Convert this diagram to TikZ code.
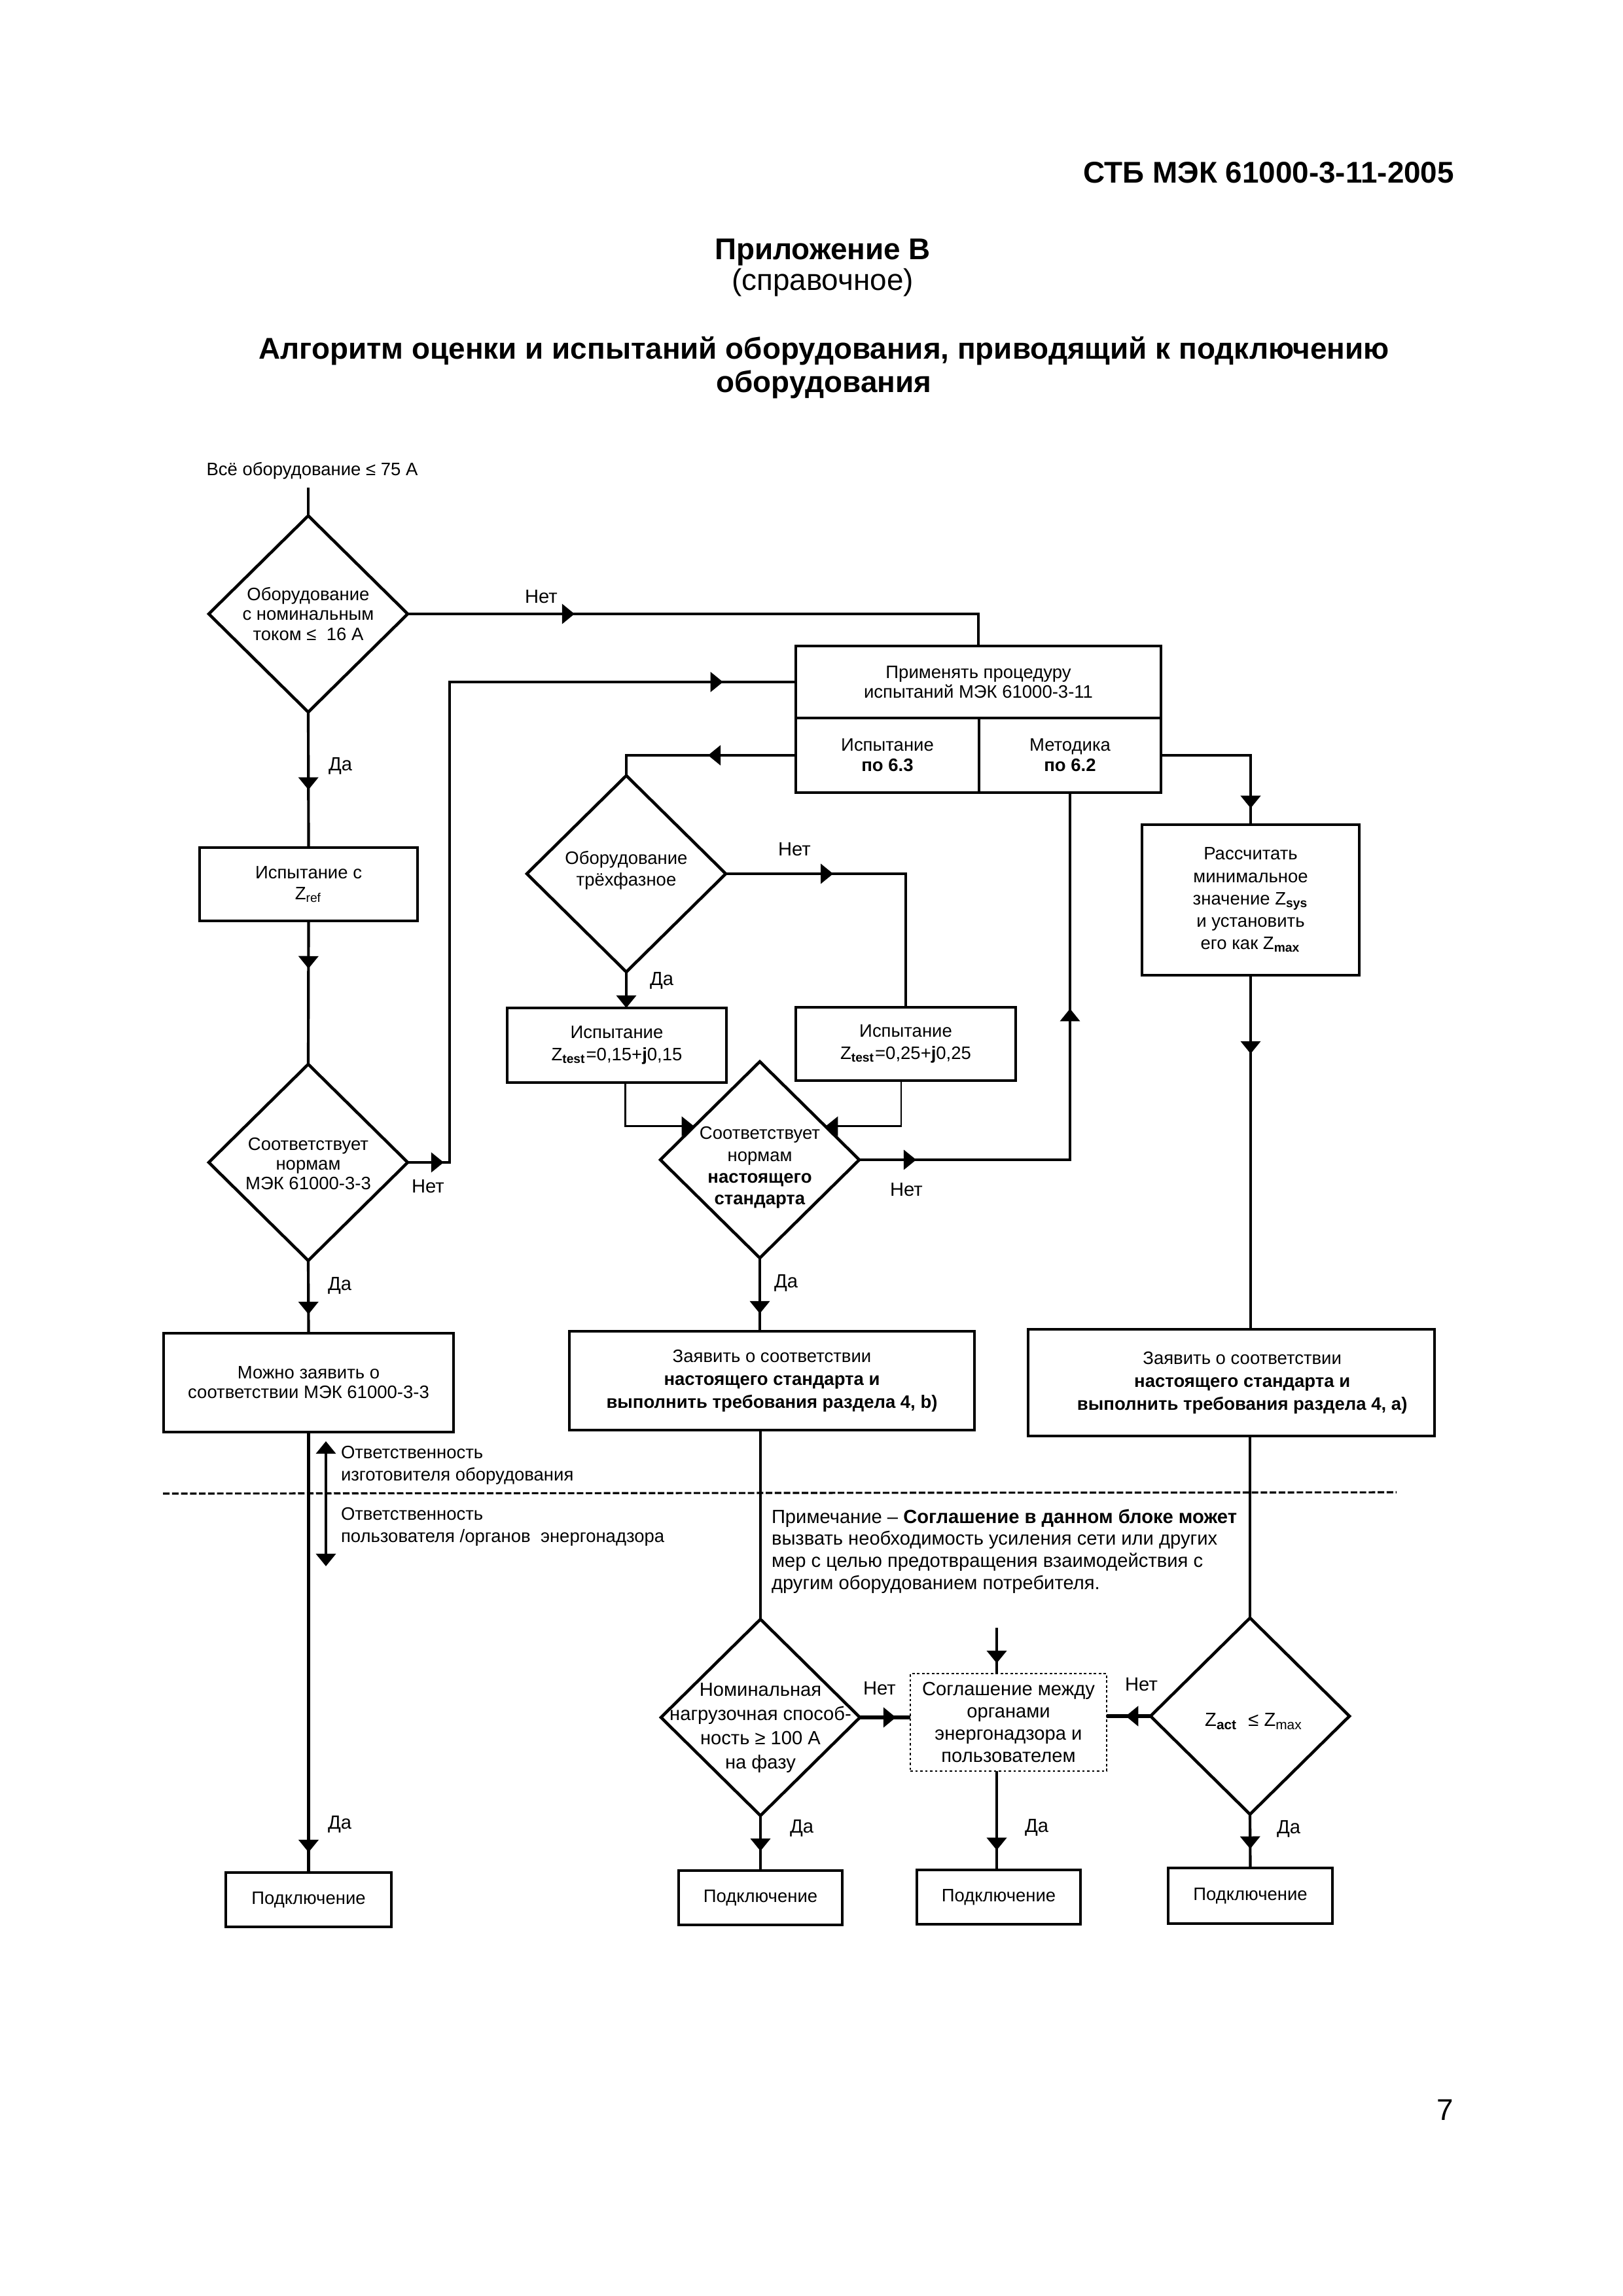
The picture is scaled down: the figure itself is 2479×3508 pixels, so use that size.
\documentclass[tikz,border=0pt]{standalone}
\usepackage{fontspec}
\setmainfont{Liberation Sans}
\usetikzlibrary{arrows.meta,shapes.geometric,decorations.markings,calc}

\begin{document}
\begin{tikzpicture}[x=0.24pt,y=-0.24pt,
  >={Triangle[length=4.6pt,width=7.2pt]},
  every node/.style={inner sep=0pt, outer sep=0pt},
  fs/.style 2 args={font=\fontsize{#1}{#2}\selectfont, align=center},
  lbl/.style={font=\fontsize{7}{8}\selectfont},
  blk/.style={draw, line width=1.1pt, rectangle, align=center},
  dia/.style={draw, line width=1.1pt, diamond, minimum width=72.96pt, minimum height=72pt},
  con/.style={line width=1pt},
  thinline/.style={line width=0.7pt},
  tbar/.style={line width=1.6pt},
  dline/.style={line width=0.75pt, dash pattern=on 2.4pt off 0.9pt},
  dotbox/.style={draw, line width=0.6pt, dash pattern=on 0.9pt off 0.9pt, rectangle, align=center},
  midarr/.style={postaction={decorate,decoration={markings,mark=at position #1 with {\arrow{>}}}}},
]
\fill[white] (0,0) rectangle (2479,3508);
\useasboundingbox (0,0) rectangle (2479,3508);

% ---------- header ----------
\node[anchor=east, font=\fontsize{11}{13}\selectfont\bfseries] (hdr) at (2222,264) {СТБ МЭК 61000-3-11-2005};
\node[font=\fontsize{11}{13}\selectfont\bfseries] (app) at (1257,385) {Приложение В};
\node[font=\fontsize{11}{13}\selectfont] (ref) at (1257,432) {(справочное)};
\node[font=\fontsize{11}{12.2}\selectfont\bfseries, align=center] (ttl) at (1259,562)
  {Алгоритм оценки и испытаний оборудования, приводящий к подключению\\оборудования};
\node[font=\fontsize{11}{13}\selectfont] (pg) at (2208,3224) {7};

% ---------- left column ----------
\node[fs={6.6}{7.6}] (intext) at (477,719) {Всё оборудование ≤ 75 А};
\coordinate (in) at (471,745);

\node[dia] (d1) at (471,938) {};
\node[fs={6.6}{7.4}] (d1t) at (471,938) {Оборудование\\с номинальным\\током ≤\ \ 16 А};

\node[blk, fs={6.6}{7.6}, minimum width=79.92pt, minimum height=26.88pt] (zref) at (471.5,1351)
  {Испытание с\\Z\textsubscript{ref}};

\node[dia] (d2) at (471,1776) {};
\node[fs={6.6}{7.2}] (d2t) at (471,1778) {Соответствует\\нормам\\МЭК 61000-3-3};

\node[blk, fs={6.6}{7.2}, minimum width=106.32pt, minimum height=36.24pt] (mbox) at (471.5,2112.5)
  {Можно заявить о\\соответствии МЭК 61000-3-3};

% ---------- procedure box ----------
\node[blk, fs={6.6}{7.2}, minimum width=133.92pt, minimum height=26.4pt] (ptop) at (1495,1042)
  {Применять процедуру\\испытаний МЭК 61000-3-11};
\node[blk, fs={6.6}{7.5}, minimum width=67.2pt, minimum height=27.36pt] (p63) at (1356,1154)
  {Испытание\\\textbf{по 6.3}};
\node[blk, fs={6.6}{7.5}, minimum width=66.72pt, minimum height=27.36pt] (p62) at (1635,1154)
  {Методика\\\textbf{по 6.2}};

% ---------- middle column ----------
\node[dia] (d3) at (957,1335) {};
\node[fs={6.6}{7.9}] (d3t) at (957,1330) {Оборудование\\трёхфазное};

\node[blk, fs={6.6}{8.2}, minimum width=80.4pt, minimum height=27.36pt] (b1) at (942.5,1597)
  {Испытание\\Z\textsubscript{\bfseries test}=0,15+\textbf{j}0,15};
\node[blk, fs={6.6}{8.2}, minimum width=80.64pt, minimum height=26.88pt] (b2) at (1384,1595)
  {Испытание\\Z\textsubscript{\bfseries test}=0,25+\textbf{j}0,25};

\node[dia] (d4) at (1161,1772) {};
\node[fs={6.6}{8}] (d4t) at (1161,1784) {Соответствует\\нормам\\\textbf{настоящего}\\\textbf{стандарта}};

\node[blk, fs={6.6}{8.4}, minimum width=148.56pt, minimum height=36.24pt] (bbox) at (1179.5,2109.5)
  {Заявить о соответствии\\\textbf{настоящего стандарта и}\\\textbf{выполнить требования раздела 4, b)}};

% ---------- right column ----------
\node[blk, fs={6.6}{8.2}, minimum width=79.68pt, minimum height=55.2pt] (rbox) at (1911,1375)
  {Рассчитать\\минимальное\\значение Z\textsubscript{\bfseries sys}\\и установить\\его как Z\textsubscript{\bfseries max}};

\node[blk, fs={6.6}{8.4}, minimum width=149.04pt, minimum height=39.12pt] (abox) at (1881.5,2112.5)
  {\hspace*{8pt}Заявить о соответствии\\\hspace*{8pt}\textbf{настоящего стандарта и}\\\hspace*{8pt}\textbf{выполнить требования раздела 4, а)}};

% ---------- responsibility ----------
\node[fs={6.6}{8.2}, align=left, anchor=west] (resp1) at (521,2239)
  {Ответственность\\изготовителя оборудования};
\node[fs={6.6}{8.2}, align=left, anchor=west] (resp2) at (521,2333)
  {Ответственность\\пользователя /органов\ \ энергонадзора};
\coordinate (r1) at (498,2202);
\coordinate (r2) at (498,2393);
\coordinate (dl1) at (249,2282);
\coordinate (dl2) at (2134,2280);

\node[fs={7}{8.1}, align=left, anchor=west] (note) at (1179,2370)
  {Примечание -- \textbf{Соглашение в данном блоке может}\\вызвать необходимость усиления сети или других\\мер с целью предотвращения взаимодействия с\\другим оборудованием потребителя.};

% ---------- bottom row ----------
\node[dia] (d5) at (1162,2624) {};
\node[fs={7}{8.9}] (d5t) at (1162,2640) {Номинальная\\нагрузочная способ-\\ность ≥ 100 А\\на фазу};

\node[dotbox, fs={7}{8.1}, minimum width=72pt, minimum height=35.76pt] (agr) at (1541,2631.5)
  {Соглашение между\\органами\\энергонадзора и\\пользователем};
\coordinate (agrin) at (1523,2487);

\node[dia] (d6) at (1910,2622) {};
\node[fs={7}{8}] (d6t) at (1916,2630) {Z\textsubscript{\bfseries act}\ \ ≤\ Z\textsubscript{max}};

\node[blk, fs={6.6}{7.6}, minimum width=60.72pt, minimum height=19.92pt] (c1) at (471.5,2902.5) {Подключение};
\node[blk, fs={6.6}{7.6}, minimum width=60pt, minimum height=19.92pt] (c2) at (1162,2899.5) {Подключение};
\node[blk, fs={6.6}{7.6}, minimum width=60pt, minimum height=19.92pt] (c3) at (1526,2898.5) {Подключение};
\node[blk, fs={6.6}{7.6}, minimum width=60.24pt, minimum height=20.4pt] (c4) at (1910.5,2896.5) {Подключение};

% ---------- connectors ----------
\draw[con] (in) -- (d1.north);
\draw[con, midarr=61.2pt] (d1.east) -| (ptop.north);
\draw[con, midarr=28.5pt] (d1.south) -- (zref.north);
\draw[con, midarr=17.5pt] (zref.south) -- (d2.north);
\draw[con, midarr=13.2pt, midarr=291.8pt] (d2.east) -- ++(64,0) |- (ptop.west);
\draw[con, midarr=19.7pt] (d2.south) -- (mbox.north);
\draw[con, midarr=154.1pt] (mbox.south) -- (c1.north);

\draw[con, midarr=32.2pt] (p63.west) -| (d3.north);
\draw[con, midarr=39.4pt] (d3.east) -| (b2.north);
\draw[con, ->] (d3.south) -- (d3.south |- b1.north);
\draw[thinline, ->] ($(b1.south)+(13,0)$) |- (d4.153);
\draw[thinline, ->] ($(b2.south)+(-7,0)$) |- (d4.27);
\draw[line width=0.85pt, midarr=20.9pt, midarr=132.7pt] (d4.east) -| (p62.south);
\draw[con, midarr=20.4pt] (d4.south) -- (d4.south |- bbox.north);

\draw[con, midarr=52.3pt] (p62.east) -| (rbox.north);
\draw[con, midarr=28.8pt] (rbox.south) -- (rbox.south |- abox.north);
\draw[con] (d6.north |- abox.south) -- (d6.north);
\draw[con] (d5.north |- bbox.south) -- (d5.north);

\draw[con, <->] (r1) -- (r2);
\draw[dline] (dl1) -- (dl2);

\draw[tbar, midarr=13.2pt] (d5.east) -- (d5.east -| agr.west);
\draw[tbar, midarr=9.1pt] (d6.west) -- (d6.west -| agr.east);
\draw[con, midarr=13pt] (d5.south) -- (c2.north);
\draw[con, midarr=12.7pt] (d6.south) -- (c4.north);
\draw[con, midarr=13pt] (agrin) -- (agrin |- agr.north);
\draw[con, midarr=29pt] (agrin |- agr.south) -- (agrin |- c3.north);

% ---------- labels ----------
\node[lbl] (l1) at (827,912) {Нет};
\node[lbl] (l2) at (520,1170) {Да};
\node[lbl] (l3) at (654,1813) {Нет};
\node[lbl] (l4) at (519,1964) {Да};
\node[lbl] (l5) at (1214,1298) {Нет};
\node[lbl] (l6) at (1011,1498) {Да};
\node[lbl] (l7) at (1385,1818) {Нет};
\node[lbl] (l8) at (1201,1960) {Да};
\node[lbl] (l9) at (1344,2580) {Нет};
\node[lbl] (l10) at (1225,2793) {Да};
\node[lbl] (l11) at (1744,2574) {Нет};
\node[lbl] (l12) at (1969,2794) {Да};
\node[lbl] (l13) at (1584,2792) {Да};
\node[lbl] (l14) at (519,2787) {Да};
\end{tikzpicture}
\end{document}
